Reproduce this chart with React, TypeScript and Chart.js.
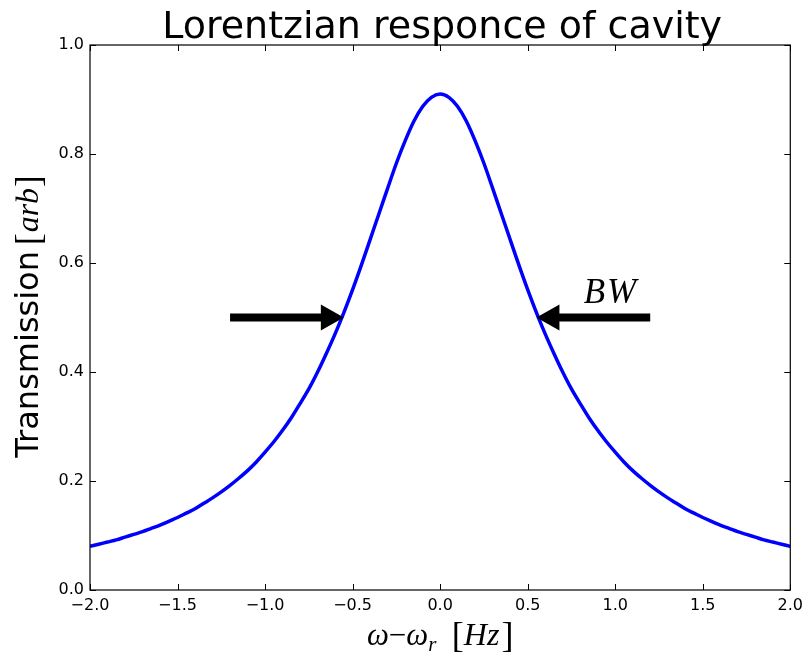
import React, { useEffect, useRef } from "react";
import { Chart, registerables } from "chart.js";

Chart.register(...registerables);

// Data
const freqOffsets = [
  -2.0, -1.95, -1.9, -1.85, -1.8, -1.75, -1.7, -1.65, -1.6, -1.55,
  -1.5, -1.45, -1.4, -1.35, -1.3, -1.25, -1.2, -1.15, -1.1, -1.05,
  -1.0, -0.95, -0.9, -0.85, -0.8, -0.75, -0.7, -0.65, -0.6, -0.55,
  -0.5, -0.45, -0.4, -0.35, -0.3, -0.25, -0.2, -0.15, -0.1, -0.05,
  0.0,
  0.05, 0.1, 0.15, 0.2, 0.25, 0.3, 0.35, 0.4, 0.45, 0.5,
  0.55, 0.6, 0.65, 0.7, 0.75, 0.8, 0.85, 0.9, 0.95, 1.0,
  1.05, 1.1, 1.15, 1.2, 1.25, 1.3, 1.35, 1.4, 1.45, 1.5,
  1.55, 1.6, 1.65, 1.7, 1.75, 1.8, 1.85, 1.9, 1.95, 2.0,
];
const transmission = [
  0.080, 0.084, 0.088, 0.092, 0.097, 0.102, 0.107, 0.113, 0.119, 0.126,
  0.133, 0.141, 0.149, 0.159, 0.169, 0.180, 0.192, 0.205, 0.219, 0.235,
  0.253, 0.272, 0.293, 0.316, 0.342, 0.369, 0.400, 0.434, 0.470, 0.509,
  0.551, 0.596, 0.643, 0.690, 0.737, 0.783, 0.824, 0.860, 0.887, 0.904,
  0.910,
  0.904, 0.887, 0.860, 0.824, 0.783, 0.737, 0.690, 0.643, 0.596, 0.551,
  0.509, 0.470, 0.434, 0.400, 0.369, 0.342, 0.316, 0.293, 0.272, 0.253,
  0.235, 0.219, 0.205, 0.192, 0.180, 0.169, 0.159, 0.149, 0.141, 0.133,
  0.126, 0.119, 0.113, 0.107, 0.102, 0.097, 0.092, 0.088, 0.084, 0.080,
];

// Annotation arrows (data coordinates)
const arrowTails = [-1.2, 1.2];
const arrowTips = [-0.55, 0.55];
const arrowLevel = 0.5;
const bwLabel = ["B", "W"];
const bwPos = [0.97, 0.527];

const titleText = "Lorentzian responce of cavity";

const fmt = (v: number) => {
  const s = Math.abs(v).toFixed(1);
  return v < 0 ? "\u2212" + s : s;
};

function drawSegments(ctx: any, segs: any[], cx: number, baseline: number) {
  let total = 0;
  const widths = segs.map((s) => {
    ctx.font = s.f;
    const w = ctx.measureText(s.t).width + (s.gap || 0);
    total += w;
    return w;
  });
  let x = cx - total / 2;
  ctx.textAlign = "left";
  ctx.textBaseline = "alphabetic";
  segs.forEach((s, i) => {
    ctx.font = s.f;
    ctx.fillText(s.t, x, baseline + (s.dy || 0));
    x += widths[i];
  });
}

const overlay = {
  id: "overlay",
  afterDatasetsDraw(chart: any) {
    const { ctx, chartArea, scales } = chart;
    const { left, right, top, bottom } = chartArea;
    const xs = scales.x;
    const ys = scales.y;
    ctx.save();

    // frame
    ctx.strokeStyle = "#000";
    ctx.lineWidth = 1.2;
    ctx.strokeRect(left, top, right - left, bottom - top);

    // inward ticks on all sides
    const tl = 6;
    ctx.lineWidth = 1;
    ctx.beginPath();
    xs.ticks.forEach((_t: any, i: number) => {
      const px = Math.round(xs.getPixelForTick(i)) + 0.5;
      ctx.moveTo(px, bottom);
      ctx.lineTo(px, bottom - tl);
      ctx.moveTo(px, top);
      ctx.lineTo(px, top + tl);
    });
    ys.ticks.forEach((_t: any, i: number) => {
      const py = Math.round(ys.getPixelForTick(i)) + 0.5;
      ctx.moveTo(left, py);
      ctx.lineTo(left + tl, py);
      ctx.moveTo(right, py);
      ctx.lineTo(right - tl, py);
    });
    ctx.stroke();

    // arrows
    ctx.fillStyle = "#000";
    const shaft = 8;
    const headW = 26;
    const headL = 23;
    for (let i = 0; i < arrowTails.length; i++) {
      const x0 = xs.getPixelForValue(arrowTails[i]);
      const x1 = xs.getPixelForValue(arrowTips[i]);
      const py = ys.getPixelForValue(arrowLevel);
      const dir = x1 > x0 ? 1 : -1;
      const xb = x1 - dir * headL;
      ctx.beginPath();
      ctx.moveTo(x0, py - shaft / 2);
      ctx.lineTo(xb, py - shaft / 2);
      ctx.lineTo(xb, py - headW / 2);
      ctx.lineTo(x1, py);
      ctx.lineTo(xb, py + headW / 2);
      ctx.lineTo(xb, py + shaft / 2);
      ctx.lineTo(x0, py + shaft / 2);
      ctx.closePath();
      ctx.fill();
    }

    // BW label
    drawSegments(
      ctx,
      [
        { t: bwLabel[0], f: "italic 35px 'Liberation Serif'", gap: 2 },
        { t: bwLabel[1], f: "italic 35px 'Liberation Serif'" },
      ],
      xs.getPixelForValue(bwPos[0]),
      ys.getPixelForValue(bwPos[1])
    );

    // title
    ctx.font = "38px 'DejaVu Sans'";
    ctx.textAlign = "center";
    ctx.textBaseline = "alphabetic";
    ctx.fillText(titleText, (left + right) / 2 + 2, 38);

    // x axis label: ω−ω_r [Hz]
    drawSegments(
      ctx,
      [
        { t: "\u03c9", f: "italic 31px 'Liberation Serif'" },
        { t: "\u2212", f: "31px 'Liberation Serif'" },
        { t: "\u03c9", f: "italic 31px 'Liberation Serif'" },
        { t: "r", f: "italic 21px 'Liberation Serif'", dy: 6 },
        { t: "  ", f: "31px 'Liberation Serif'" },
        { t: "[", f: "36px 'Liberation Serif'", dy: 2 },
        { t: "Hz", f: "italic 32px 'Liberation Serif'", gap: 2 },
        { t: "]", f: "36px 'Liberation Serif'", dy: 2 },
      ],
      (left + right) / 2,
      645
    );

    // y axis label: Transmission [arb]
    ctx.translate(38, (top + bottom) / 2 - 1);
    ctx.rotate(-Math.PI / 2);
    drawSegments(
      ctx,
      [
        { t: "Transmission", f: "32px 'DejaVu Sans'", gap: 6 },
        { t: "[", f: "35px 'Liberation Serif'", dy: 2, gap: 1 },
        { t: "arb", f: "italic 32px 'Liberation Serif'", gap: 1 },
        { t: "]", f: "35px 'Liberation Serif'", dy: 2 },
      ],
      0,
      0
    );

    ctx.restore();
  },
};

export default function App() {
  const ref = useRef<HTMLCanvasElement>(null);

  useEffect(() => {
    if (!ref.current) return;
    const chart = new Chart(ref.current, {
      type: "line",
      data: {
        datasets: [
          {
            data: freqOffsets.map((x, i) => ({ x, y: transmission[i] })),
            borderColor: "#0000ff",
            borderWidth: 3.5,
            pointRadius: 0,
            fill: false,
            tension: 0.3,
          },
        ],
      },
      options: {
        responsive: false,
        animation: false,
        layout: { padding: { left: 0, top: 45, right: 15, bottom: 0 } },
        plugins: {
          legend: { display: false },
          tooltip: { enabled: false },
          title: { display: false },
        },
        scales: {
          x: {
            type: "linear",
            min: -2,
            max: 2,
            grid: { display: false, drawTicks: false },
            border: { display: false },
            ticks: {
              stepSize: 0.5,
              color: "#000",
              padding: 6,
              maxRotation: 0,
              font: { family: "'DejaVu Sans'", size: 16 },
              callback: (v: any) => fmt(Number(v)),
            },
            afterFit: (s: any) => {
              s.height = 69;
            },
          },
          y: {
            type: "linear",
            min: 0,
            max: 1,
            grid: { display: false, drawTicks: false },
            border: { display: false },
            ticks: {
              stepSize: 0.2,
              color: "#000",
              padding: 6,
              font: { family: "'DejaVu Sans'", size: 16 },
              callback: (v: any) => fmt(Number(v)),
            },
            afterFit: (s: any) => {
              s.width = 90;
            },
          },
        },
      },
      plugins: [overlay],
    });
    return () => chart.destroy();
  }, []);

  return (
    <div style={{ position: "absolute", left: 0, top: 0, width: 809, height: 659, background: "#fff" }}>
      <canvas ref={ref} width={809} height={659} />
    </div>
  );
}
